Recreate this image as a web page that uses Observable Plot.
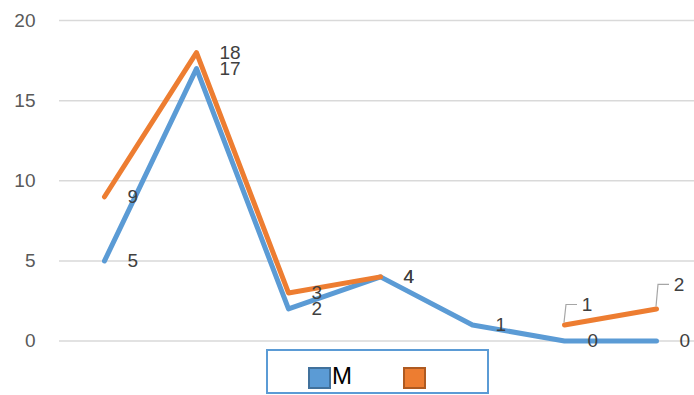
<!DOCTYPE html>
<html>
<head>
<meta charset="utf-8">
<script src="https://cdn.jsdelivr.net/npm/d3@7"></script>
<script src="https://cdn.jsdelivr.net/npm/@observablehq/plot@0.6"></script>
<style>
  html, body { margin: 0; padding: 0; background: #fff; }
  #wrap { position: relative; width: 694px; height: 395px; overflow: hidden; font-family: "Liberation Sans", Arial, sans-serif; }
  #legend { position: absolute; left: 266px; top: 349px; width: 223px; height: 45px; box-sizing: border-box; border: 2px solid #5b9bd5; background: #fff; }
  .sw { position: absolute; top: 16px; width: 23px; height: 22px; box-sizing: border-box; }
  .lab { position: absolute; top: 10px; font-size: 24px; color: #000; line-height: 30px; }
</style>
</head>
<body>
<div id="wrap"></div>
<script>
const categories = [1, 2, 3, 4, 5, 6, 7];
const seriesNames = ["M", ""];
const seriesM = [5, 17, 2, 4, 1, 0, 0];
const seriesB = [9, 18, 3, 4, null, 1, 2];
const yTicks = [0, 5, 10, 15, 20];
const colors = ["#5b9bd5", "#ed7d31"];

const rows = [];
categories.forEach((c, i) => {
  rows.push({x: c, y: seriesM[i], s: seriesNames[0]});
  rows.push({x: c, y: seriesB[i], s: "B"});
});
const rowsM = rows.filter(d => d.s === "M");
const rowsB = rows.filter(d => d.s === "B");
// orange labels with leader lines (last two points)
const leaderIdx = [5, 6];
const rowsBPlain = rowsB.filter((d, i) => d.y != null && !leaderIdx.includes(i));
const rowsBLead = rowsB.filter((d, i) => leaderIdx.includes(i));
const leadOffsets = [-20, -24];

const leaderMark = (index, scales) => {
  const g = d3.create("svg:g");
  rowsBLead.forEach((d, k) => {
    const px = scales.x(d.x), py = scales.y(d.y);
    const ly = py + leadOffsets[k];
    g.append("path")
      .attr("d", `M${px},${py - 2}L${px + 2},${ly}L${px + 13},${ly}`)
      .attr("fill", "none").attr("stroke", "#a6a6a6").attr("stroke-width", 1.2);
    g.append("text")
      .attr("x", px + 23).attr("y", ly).attr("dy", "0.32em")
      .attr("fill", "#404040").attr("font-size", 19)
      .text(d.y);
  });
  return g.node();
};

const chart = Plot.plot({
  width: 694,
  height: 395,
  marginTop: 20,
  marginBottom: 54.5,
  marginLeft: 59,
  marginRight: 0,
  style: {fontSize: "19px", fontFamily: "'Liberation Sans', Arial, sans-serif", background: "#fff", overflow: "visible"},
  x: {domain: [0.5, 7.5], range: [58, 702], axis: null},
  y: {domain: [0, 20], ticks: yTicks, tickSize: 0, tickPadding: 24, label: null, tickFormat: d => d},
  marks: [
    Plot.ruleY(yTicks, {stroke: "#d9d9d9", strokeWidth: 1.5}),
    Plot.axisY({ticks: yTicks, tickSize: 0, tickPadding: 24, label: null, color: "#595959", fontSize: 19}),
    Plot.line(rowsM, {x: "x", y: "y", stroke: colors[0], strokeWidth: 5, strokeLinejoin: "round", strokeLinecap: "round"}),
    Plot.line(rowsB, {x: "x", y: "y", stroke: colors[1], strokeWidth: 5, strokeLinejoin: "round", strokeLinecap: "round"}),
    Plot.text(rowsM, {x: "x", y: "y", text: "y", dx: 23, textAnchor: "start", fill: "#404040", fontSize: 19}),
    Plot.text(rowsBPlain, {x: "x", y: "y", text: "y", dx: 23, textAnchor: "start", fill: "#404040", fontSize: 19}),
    leaderMark
  ]
});

const wrap = document.getElementById("wrap");
wrap.appendChild(chart);

const legend = document.createElement("div");
legend.id = "legend";
legend.innerHTML =
  `<div class="sw" style="left:40px;background:${colors[0]};border:2px solid #41719c"></div>` +
  `<div class="lab" style="left:64px">${seriesNames[0]}</div>` +
  `<div class="sw" style="left:135px;background:${colors[1]};border:2px solid #ae5a21"></div>` +
  `<div class="lab" style="left:160px">${seriesNames[1]}</div>`;
wrap.appendChild(legend);
</script>
</body>
</html>
